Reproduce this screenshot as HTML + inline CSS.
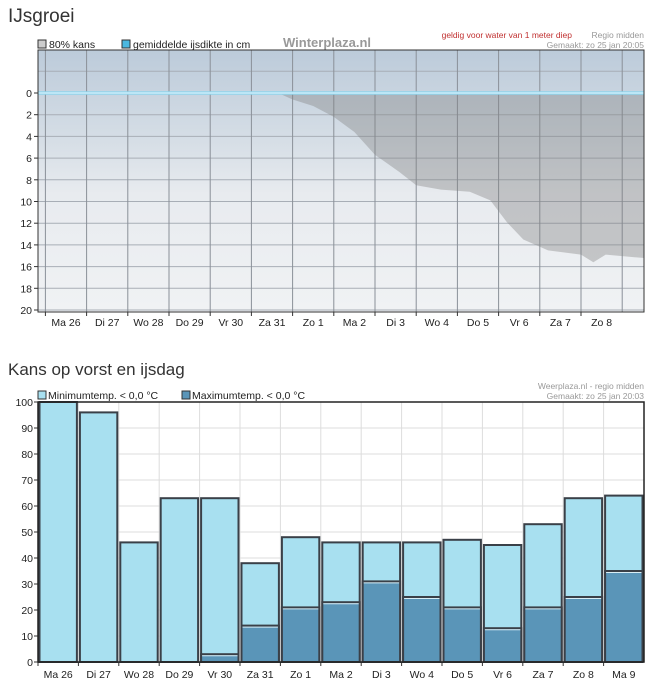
<!DOCTYPE html>
<html><head><meta charset="utf-8"><style>
body{margin:0;background:#fff;font-family:"Liberation Sans",sans-serif;width:666px;height:691px;overflow:hidden}
svg text{font-family:"Liberation Sans",sans-serif}
</style></head><body>
<svg id="s" width="666" height="691">
<defs>
<linearGradient id="bg" x1="0" y1="0" x2="0" y2="1">
<stop offset="0" stop-color="#bccbda"/><stop offset="0.35" stop-color="#d6dee6"/><stop offset="0.55" stop-color="#e8ebef"/><stop offset="1" stop-color="#f0f2f4"/>
</linearGradient>
</defs>
<text x="8" y="22" font-size="19" fill="#333">IJsgroei</text>
<rect x="38" y="40" width="8" height="8" fill="#ccc" stroke="#333"/>
<text x="49" y="48" font-size="10.5" fill="#222">80% kans</text>
<rect x="122" y="40" width="8" height="8" fill="#4ab8e0" stroke="#333"/>
<text x="133" y="48" font-size="10.5" fill="#222">gemiddelde ijsdikte in cm</text>
<text x="283" y="47" font-size="13" font-weight="bold" fill="#999">Winterplaza.nl</text>
<text x="572" y="38" font-size="8.5" fill="#c03030" text-anchor="end">geldig voor water van 1 meter diep</text>
<text x="644" y="38" font-size="8.5" fill="#999" text-anchor="end">Regio midden</text>
<text x="644" y="48" font-size="8.5" fill="#999" text-anchor="end">Gemaakt: zo 25 jan 20:05</text>
<g id="top"></g>
<text x="8" y="375" font-size="17" fill="#333">Kans op vorst en ijsdag</text>
<rect x="38" y="391" width="8" height="8" fill="#a8e0f0" stroke="#333"/>
<text x="48" y="399" font-size="10.5" fill="#222">Minimumtemp. &lt; 0,0 °C</text>
<rect x="182" y="391" width="8" height="8" fill="#5a95b8" stroke="#333"/>
<text x="192" y="399" font-size="10.5" fill="#222">Maximumtemp. &lt; 0,0 °C</text>
<text x="644" y="389" font-size="8.5" fill="#999" text-anchor="end">Weerplaza.nl - regio midden</text>
<text x="644" y="399" font-size="8.5" fill="#999" text-anchor="end">Gemaakt: zo 25 jan 20:03</text>
<g id="bot"></g>
</svg>
<script>
const topDays=["Ma 26","Di 27","Wo 28","Do 29","Vr 30","Za 31","Zo 1","Ma 2","Di 3","Wo 4","Do 5","Vr 6","Za 7","Zo 8"];
const topTicks=[0,2,4,6,8,10,12,14,16,18,20];
const rangeDay=[5.15,5.5,6,6.5,7,7.5,8.1,8.5,9.1,9.8,10.3,10.7,11.1,11.7,12.5,12.8,13.1,14.0];
const rangeDepth=[0,0.6,1.2,2.2,3.6,5.7,7.3,8.5,8.9,9.1,9.9,11.9,13.5,14.5,14.9,15.6,14.9,15.2];
const avgIce=0;
const botDays=["Ma 26","Di 27","Wo 28","Do 29","Vr 30","Za 31","Zo 1","Ma 2","Di 3","Wo 4","Do 5","Vr 6","Za 7","Zo 8","Ma 9"];
const minTemp=[100,96,46,63,63,38,48,46,46,46,47,45,53,63,64];
const maxTemp=[0,0,0,0,3,14,21,23,31,25,21,13,21,25,35];
const botTicks=[0,10,20,30,40,50,60,70,80,90,100];
const NS="http://www.w3.org/2000/svg";
function mk(p,t,a){const e=document.createElementNS(NS,t);for(const k in a)e.setAttribute(k,a[k]);p.appendChild(e);return e;}
const T=document.getElementById('top');
const L=38,R=644,TT=50,TB=312;
const tx=i=>66+41.2*i, ty=v=>93+v*10.85;
let e=mk(T,'rect',{x:L,y:TT,width:R-L,height:TB-TT,fill:'url(#bg)'});


for(const v of topTicks.concat([-2])){
 const y=ty(v);
 e=mk(T,'line',{x1:L,x2:R,y1:y,y2:y,stroke:'#a8aeb6','stroke-width':1});
 
 
}
for(let i=0;i<=14;i++){
 const x=tx(i)-20.6;
 e=mk(T,'line',{x1:x,x2:x,y1:TT,y2:TB,stroke:'#8a9098','stroke-width':1});
 
 
}
let d='M'+tx(rangeDay[0])+','+ty(0);
rangeDay.forEach((dd,i)=>{d+=' L'+tx(dd)+','+ty(rangeDepth[i]);});
d+=' L'+R+','+ty(rangeDepth[rangeDepth.length-1])+' L'+R+','+ty(0)+' Z';
e=mk(T,'path',{d:d,fill:'rgba(130,130,130,0.38)'});


e=mk(T,'line',{x1:L,x2:R,y1:ty(avgIce),y2:ty(avgIce),stroke:'#8fd4ec','stroke-width':3.5});


mk(T,'line',{x1:L,x2:R,y1:ty(avgIce),y2:ty(avgIce),stroke:'#e8f8ff','stroke-width':1});
e=mk(T,'rect',{x:L,y:TT,width:R-L,height:TB-TT,fill:'none',stroke:'#333','stroke-width':1});


for(const v of topTicks){
 e=mk(T,'text',{x:L-6,y:ty(v)+4,'font-size':10.5,'text-anchor':'end',fill:'#222'});e.textContent=v;
 
 
 mk(T,'line',{x1:L-4,x2:L,y1:ty(v),y2:ty(v),stroke:'#333'});
}
topDays.forEach((s,i)=>{
 e=mk(T,'text',{x:tx(i),y:326,'font-size':10.5,'text-anchor':'middle',fill:'#222'});e.textContent=s;
 
 
 mk(T,'line',{x1:tx(i)-20.6,x2:tx(i)-20.6,y1:TB,y2:TB+4,stroke:'#333'});
});
const B=document.getElementById('bot');
const BT=402,BB=662,bw=(R-L)/15;
const by=v=>BB-v*(BB-BT)/100, bx=i=>L+bw*i;
for(const v of botTicks){
 e=mk(B,'line',{x1:L,x2:R,y1:by(v),y2:by(v),stroke:'#ddd'});
 
 
 e=mk(B,'text',{x:L-5,y:by(v)+4,'font-size':10.5,'text-anchor':'end',fill:'#222'});e.textContent=v;
 
 
 mk(B,'line',{x1:L-4,x2:L,y1:by(v),y2:by(v),stroke:'#333'});
}
for(let i=0;i<=15;i++){mk(B,'line',{x1:bx(i),x2:bx(i),y1:BT,y2:BB,stroke:'#ddd'});}
botDays.forEach((s,i)=>{
 const x=bx(i)+1.5,w=bw-3;
 e=mk(B,'rect',{x:x,y:by(minTemp[i]),width:w,height:BB-by(minTemp[i]),fill:'#a8e0f0',stroke:'#3a4048','stroke-width':2});
 
 
 if(maxTemp[i]>0){
 e=mk(B,'rect',{x:x,y:by(maxTemp[i]),width:w,height:BB-by(maxTemp[i]),fill:'#5a95b8',stroke:'#3a4048','stroke-width':2});
 
 
 mk(B,'line',{x1:x+1,x2:x+w-1,y1:by(maxTemp[i])+1.5,y2:by(maxTemp[i])+1.5,stroke:'#d8eef6','stroke-width':1});
 }
 e=mk(B,'text',{x:bx(i)+bw/2,y:678,'font-size':10.5,'text-anchor':'middle',fill:'#222'});e.textContent=s;
 
 
 mk(B,'line',{x1:bx(i),x2:bx(i),y1:BB,y2:BB+4,stroke:'#333'});
});
e=mk(B,'rect',{x:L,y:BT,width:R-L,height:BB-BT,fill:'none',stroke:'#222','stroke-width':1.5});


</script>
</body></html>
